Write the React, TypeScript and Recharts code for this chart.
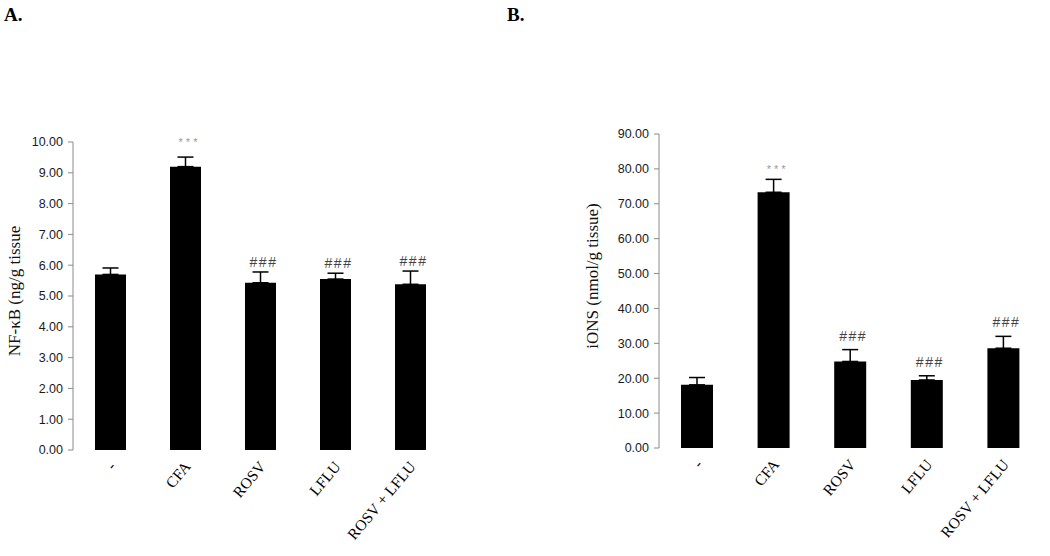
import React from 'react';
import { BarChart, Bar, XAxis, YAxis, ErrorBar, LabelList } from 'recharts';

// treatment groups, shared by both panels
const groups = ['-', 'CFA', 'ROSV', 'LFLU', 'ROSV + LFLU'];
const boundaryTicks = [0, 1, 2, 3, 4, 5];

// panel A: NF-kB (ng/g tissue)
const nfkbMean = [5.7, 9.2, 5.43, 5.55, 5.38];
const nfkbErr = [0.21, 0.31, 0.35, 0.19, 0.43];
const nfkbSig = ['', '***', '###', '###', '###'];
const nfkbTicks = [0, 1, 2, 3, 4, 5, 6, 7, 8, 9, 10];

// panel B: iONS (nmol/g tissue)
const ionsMean = [18.1, 73.3, 24.8, 19.5, 28.6];
const ionsErr = [2.1, 3.7, 3.4, 1.2, 3.4];
const ionsSig = ['', '***', '###', '###', '###'];
const ionsTicks = [0, 10, 20, 30, 40, 50, 60, 70, 80, 90];

const AXIS = '#8a8a8a';
const SANS = '"Liberation Sans", Arial, sans-serif';
const SERIF = '"Liberation Serif", "Times New Roman", serif';

function buildRows(mean: number[], err: number[], sig: string[]) {
  return groups.map((g, i) => ({
    group: g,
    mean: mean[i],
    err: [0, err[i]],
    sig: sig[i],
    slot: i + 0.5,
  }));
}

function GroupTick(props: any) {
  const { x, y, payload } = props;
  const ax = x + 6;
  const ay = y + 17;
  return (
    <text
      x={ax}
      y={ay}
      transform={`rotate(-50, ${ax}, ${ay})`}
      textAnchor="end"
      fontFamily={SERIF}
      fontSize={15.5}
      fill="#000"
    >
      {payload.value}
    </text>
  );
}

// gaps (px) between the error bar top and the marker baseline
function makeSig(err: number[], mean: number[], starGap: number, hashGap: number) {
  return (props: any) => {
    const { x, y, width, height, value, index } = props;
    if (!value) return null;
    const errPx = (err[index] * height) / mean[index];
    const stars = value === '***';
    return (
      <text
        x={x + width / 2 + (stars ? 4 : 3)}
        y={y - errPx - (stars ? starGap : hashGap)}
        textAnchor="middle"
        fontFamily={SANS}
        fontSize={stars ? 11 : 14}
        fill={stars ? '#9a9a9a' : '#444'}
        letterSpacing={stars ? 3 : 1.5}
      >
        {value}
      </text>
    );
  };
}

function makeTitle(text: string, cx: number, dy: number) {
  return (props: any) => {
    const vb = props.viewBox;
    const tx = vb.x + cx;
    const ty = vb.y + vb.height / 2 + dy;
    return (
      <text
        x={tx}
        y={ty}
        transform={`rotate(-90, ${tx}, ${ty})`}
        textAnchor="middle"
        dominantBaseline="central"
        fontFamily={SERIF}
        fontSize={17}
        fill="#111"
      >
        {text}
      </text>
    );
  };
}

interface PanelProps {
  mean: number[];
  err: number[];
  sig: string[];
  ticks: number[];
  width: number;
  axisWidth: number;
  margin: { top: number; right: number; bottom: number; left: number };
  barSize: number;
  title: string;
  titleX: number;
  titleDy: number;
  starGap: number;
  hashGap: number;
}

function Panel(p: PanelProps) {
  const rows = buildRows(p.mean, p.err, p.sig);
  const top = p.ticks[p.ticks.length - 1];
  return (
    <BarChart width={p.width} height={556} data={rows} margin={p.margin}>
      <XAxis
        xAxisId={0}
        type="number"
        dataKey="slot"
        domain={[0, 5]}
        ticks={boundaryTicks}
        height={0}
        tickSize={4}
        stroke={AXIS}
        tickLine={{ stroke: AXIS }}
        tickFormatter={() => ''}
        allowDataOverflow
      />
      <XAxis
        xAxisId="cat"
        dataKey="group"
        height={90}
        axisLine={false}
        tickLine={false}
        tickSize={0}
        tickMargin={0}
        interval={0}
        tick={<GroupTick />}
      />
      <YAxis
        width={p.axisWidth}
        domain={[0, top]}
        ticks={p.ticks}
        interval={0}
        tickSize={5}
        tickMargin={5}
        stroke={AXIS}
        tick={{ fill: '#1a1a1a', fontFamily: SANS, fontSize: 12.5 }}
        tickFormatter={(v: number) => v.toFixed(2)}
        label={{ content: makeTitle(p.title, p.titleX, p.titleDy) }}
      />
      <Bar
        xAxisId="cat"
        dataKey="mean"
        fill="#000"
        barSize={p.barSize}
        isAnimationActive={false}
      >
        <ErrorBar dataKey="err" width={8} stroke="#000" strokeWidth={1.5} direction="y" />
        <LabelList dataKey="sig" content={makeSig(p.err, p.mean, p.starGap, p.hashGap)} />
      </Bar>
    </BarChart>
  );
}

export default function App() {
  return (
    <div style={{ position: 'absolute', left: 0, top: 0, width: 1050, height: 556, background: '#fff' }}>
      <div style={{ position: 'absolute', left: 4, top: 4, fontFamily: SERIF, fontWeight: 'bold', fontSize: 19 }}>A.</div>
      <div style={{ position: 'absolute', left: 507, top: 4, fontFamily: SERIF, fontWeight: 'bold', fontSize: 19 }}>B.</div>
      <div style={{ position: 'absolute', left: 0, top: 0 }}>
        <Panel
          mean={nfkbMean}
          err={nfkbErr}
          sig={nfkbSig}
          ticks={nfkbTicks}
          width={520}
          axisWidth={73}
          margin={{ top: 142, right: 72, bottom: 16, left: 0 }}
          barSize={31}
          title="NF-κB (ng/g tissue"
          titleX={14}
          titleDy={-5}
          starGap={11}
          hashGap={5}
        />
      </div>
      <div style={{ position: 'absolute', left: 520, top: 0 }}>
        <Panel
          mean={ionsMean}
          err={ionsErr}
          sig={ionsSig}
          ticks={ionsTicks}
          width={530}
          axisWidth={139}
          margin={{ top: 134, right: 8, bottom: 18, left: 0 }}
          barSize={32}
          title="iONS (nmol/g tissue)"
          titleX={72}
          titleDy={-15}
          starGap={6}
          hashGap={9}
        />
      </div>
    </div>
  );
}
